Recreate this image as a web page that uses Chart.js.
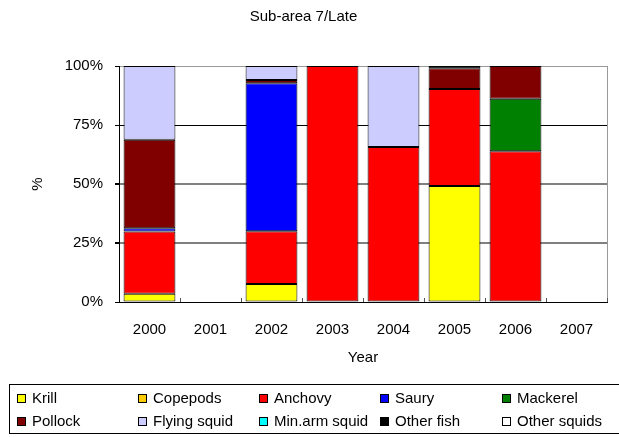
<!DOCTYPE html>
<html>
<head>
<meta charset="utf-8">
<script src="https://cdn.jsdelivr.net/npm/chart.js@4"></script>
<style>
  html, body { margin: 0; padding: 0; background: #fff; }
  #wrap { width: 619px; height: 437px; }
</style>
</head>
<body>
<div id="wrap"><canvas id="chart" width="619" height="437"></canvas></div>
<script>
// Data (percent of diet per year)
const years = ['2000', '2001', '2002', '2003', '2004', '2005', '2006', '2007'];
const yTicks = [0, 25, 50, 75, 100];

const krill       = [3.5, null, 7.6, null, null, 49.1, null, null];
const copepods    = [null, null, null, null, null, null, null, null];
const anchovy     = [26.4, null, 22.4, 100, 65.7, 41.2, 63.9, null];
const saury       = [1.3, null, 62.7, null, null, null, null, null];
const mackerel    = [null, null, null, null, null, null, 22.2, null];
const pollock     = [37.6, null, 1.4, null, null, 8.7, 13.9, null];
const flyingSquid = [31.2, null, 5.9, null, 34.3, null, null, null];
const minArmSquid = [null, null, null, null, null, null, null, null];
const otherFish   = [null, null, null, null, null, 1.0, null, null];
const otherSquids = [null, null, null, null, null, null, null, null];

const series = [
  ['Krill', krill, '#ffff00'],
  ['Copepods', copepods, '#ffcc00'],
  ['Anchovy', anchovy, '#ff0000'],
  ['Saury', saury, '#0000ff'],
  ['Mackerel', mackerel, '#008000'],
  ['Pollock', pollock, '#800000'],
  ['Flying squid', flyingSquid, '#ccccff'],
  ['Min.arm squid', minArmSquid, '#00ffff'],
  ['Other fish', otherFish, '#000000'],
  ['Other squids', otherSquids, '#ffffff']
];

const FONT = 'Liberation Sans, Arial, sans-serif';

// frame, inner x ticks and the boxed legend
const extras = {
  id: 'extras',
  afterDraw(chart) {
    const ctx = chart.ctx;
    const a = chart.chartArea;
    const x = chart.scales.x;
    ctx.save();
    // right border of plot area
    ctx.strokeStyle = '#999';
    ctx.lineWidth = 1;
    ctx.beginPath();
    ctx.moveTo(Math.round(a.right) + 0.5, a.top);
    ctx.lineTo(Math.round(a.right) + 0.5, a.bottom);
    ctx.stroke();
    // small tick marks between categories, pointing up
    ctx.strokeStyle = '#555';
    const step = x.getPixelForValue(1) - x.getPixelForValue(0);
    for (let i = 1; i <= years.length; i++) {
      const px = Math.round(x.getPixelForValue(i) - step / 2) + 0.5;
      ctx.beginPath();
      ctx.moveTo(px, a.bottom);
      ctx.lineTo(px, a.bottom - 4);
      ctx.stroke();
    }
    // legend
    ctx.strokeStyle = '#000';
    ctx.strokeRect(9.5, 384.5, 620, 49);
    const cols = [17, 138, 259, 380, 502];
    const rows = [394, 417];
    ctx.font = '15px ' + FONT;
    ctx.textBaseline = 'middle';
    ctx.textAlign = 'left';
    chart.data.datasets.forEach((ds, i) => {
      const cx = cols[i % 5];
      const cy = rows[Math.floor(i / 5)];
      ctx.fillStyle = ds.backgroundColor;
      ctx.fillRect(cx, cy, 9, 9);
      ctx.strokeRect(cx + 0.5, cy + 0.5, 8, 8);
      ctx.fillStyle = '#000';
      ctx.fillText(ds.label, cx + 15, cy + 5);
    });
    ctx.restore();
  }
};

new Chart(document.getElementById('chart'), {
  type: 'bar',
  data: {
    labels: years,
    datasets: series.map(([label, data, color]) => ({
      label: label,
      data: data,
      backgroundColor: color,
      borderColor: '#000',
      borderWidth: 1,
      borderSkipped: false,
      barPercentage: 0.85,
      categoryPercentage: 1
    }))
  },
  options: {
    responsive: false,
    animation: false,
    layout: { padding: { left: 0, right: 12, top: 0, bottom: 70 } },
    plugins: {
      legend: { display: false },
      tooltip: { enabled: false },
      title: {
        display: true,
        text: 'Sub-area 7/Late',
        color: '#000',
        font: { family: FONT, size: 15, weight: 'normal' },
        padding: { top: 8, bottom: 40 }
      }
    },
    scales: {
      x: {
        stacked: true,
        grid: { display: false, drawTicks: false },
        border: { display: true, color: '#000', width: 1 },
        ticks: { color: '#000', padding: 19, font: { family: FONT, size: 15 } },
        title: {
          display: true,
          text: 'Year',
          color: '#000',
          font: { family: FONT, size: 15 },
          padding: { top: 0, bottom: 0 }
        },
        afterFit(scale) { scale.height = 65; }
      },
      y: {
        stacked: true,
        min: 0,
        max: 100,
        afterBuildTicks(scale) { scale.ticks = yTicks.map(v => ({ value: v })); },
        grid: {
          color(ctx) {
            const v = ctx.tick && ctx.tick.value;
            if (v === 75) return '#000';
            if (v === 100) return '#999';
            return '#808080';
          },
          lineWidth(ctx) {
            const v = ctx.tick && ctx.tick.value;
            return (v === 25 || v === 50) ? 2 : 1;
          },
          tickColor: '#000',
          tickLength: 4,
          drawTicks: true
        },
        border: { display: true, color: '#000', width: 1 },
        ticks: {
          color: '#000',
          padding: 12,
          font: { family: FONT, size: 15 },
          callback: v => v + '%'
        },
        title: {
          display: true,
          text: '%',
          color: '#000',
          font: { family: FONT, size: 15 },
          padding: { top: 29, bottom: 0 }
        },
        afterFit(scale) { scale.width = 119; }
      }
    }
  },
  plugins: [extras]
});
</script>
</body>
</html>
